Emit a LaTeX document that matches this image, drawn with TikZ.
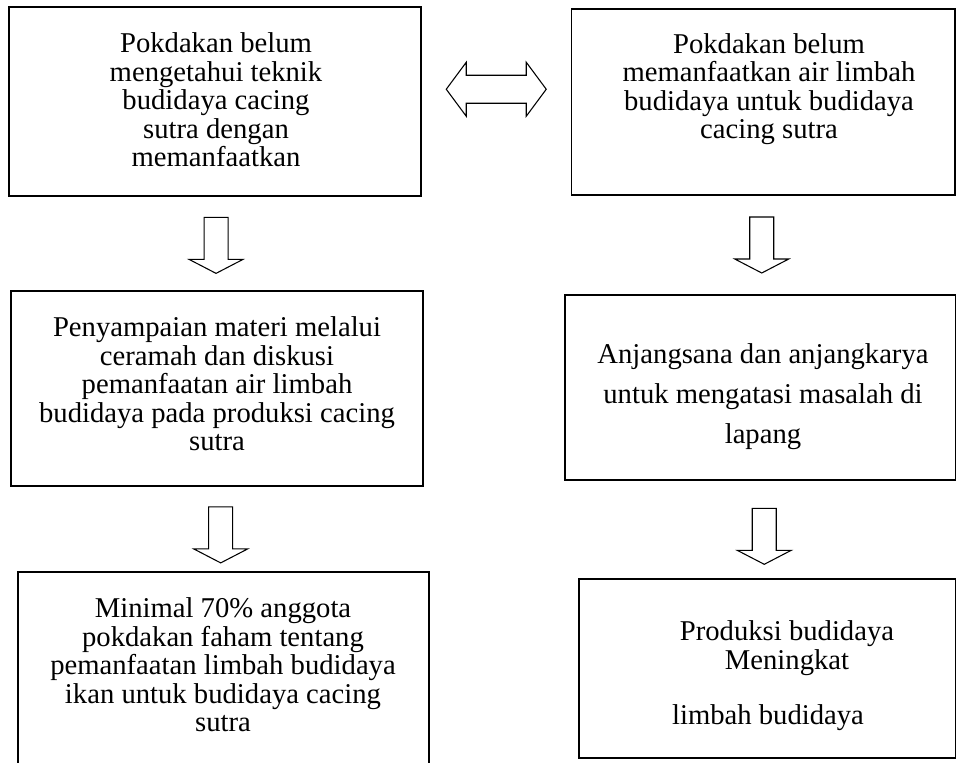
\documentclass[tikz,border=0pt]{standalone}
\usepackage{fontspec}
\setmainfont{Liberation Serif}
\usepackage{tikz}
\usetikzlibrary{
calc,
fit
}

\begin{document}
\begin{tikzpicture}[x=0.75pt, y=-0.75pt,
  box/.style={draw, line width=1.3pt, inner sep=0pt},
  txt/.style={align=center, inner sep=0pt, font=\fontsize{21.5}{21.4}\selectfont},
  blockarrow/.style={draw, line width=0.8pt, line join=miter}]

\useasboundingbox (0,0) rectangle (957,763);

% Boxes (left column)
\node[box, fit={(9,7) (421,196)}] (b1) {};
\node[box, fit={(11,291) (423,486)}] (b3) {};
\node[box, fit={(18,572) (429,775)}] (b5) {};

% Boxes (right column)
\node[box, fit={(571.5,9) (955,195)}] (b2) {};
\node[box, fit={(565,295) (955.5,480)}] (b4) {};
\node[box, fit={(579,579) (955.5,758)}] (b6) {};

% Texts
\node[txt] (t1) at (216,100) {Pokdakan belum\\mengetahui teknik\\budidaya cacing\\sutra dengan\\memanfaatkan};
\node[txt] (t2) at (769,89) {Pokdakan belum\\memanfaatkan air limbah\\budidaya untuk budidaya\\cacing sutra};
\node[txt] (t3) at (217,384) {Penyampaian materi melalui\\ceramah dan diskusi\\pemanfaatan air limbah\\budidaya pada produksi cacing\\sutra};
\node[txt, font=\fontsize{21.5}{30}\selectfont] (t4) at (763,397) {Anjangsana dan anjangkarya\\untuk mengatasi masalah di\\lapang};
\node[txt] (t5) at (223,665) {Minimal 70\% anggota\\pokdakan faham tentang\\pemanfaatan limbah budidaya\\ikan untuk budidaya cacing\\sutra};
\node[txt] (t6) at (787,648) {Produksi budidaya\\Meningkat};
\node[txt] (t7) at (768,718) {limbah budidaya};

% Down block arrows between boxes
\foreach \a/\b/\r in {b1/b3/0.52, b3/b5/0.57, b2/b4/0.5, b4/b6/0.57} {
  \draw[blockarrow, shift={($(\a.south)!\r!(\b.north)$)}]
    (-12,-28) -- (12,-28) -- (12,14) -- (27,14) -- (0,28) -- (-27,14) -- (-12,14) -- cycle;
}

% Double block arrow between top boxes
\draw[blockarrow, shift={($(b1.east)!0.5!(b2.west)+(0,-12.5)$)}]
  (-50,0) -- (-30,-27) -- (-30,-14) -- (30,-14) -- (30,-27) -- (50,0)
  -- (30,27) -- (30,14) -- (-30,14) -- (-30,27) -- cycle;

\end{tikzpicture}
\end{document}
